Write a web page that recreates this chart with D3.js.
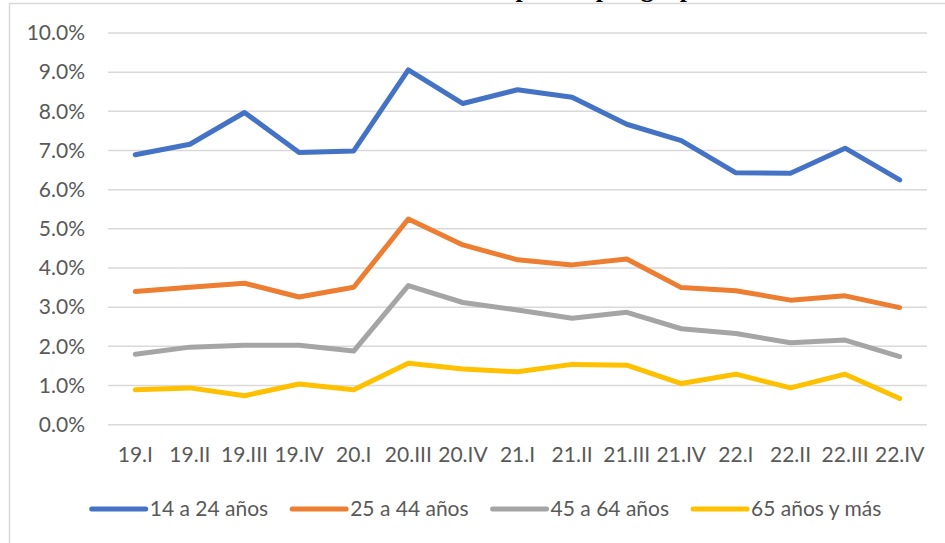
<!DOCTYPE html>
<html>
<head>
<meta charset="utf-8">
<script src="https://cdn.jsdelivr.net/npm/d3@7"></script>
<style>
  body { margin: 0; background: #fff; }
  svg { display: block; }
</style>
</head>
<body>
<div id="chart"></div>
<script>
// Data
const categories = ["19.I", "19.II", "19.III", "19.IV", "20.I", "20.III", "20.IV",
    "21.I", "21.II", "21.III", "21.IV", "22.I", "22.II", "22.III", "22.IV"];
const seriesNames = ["14 a 24 años", "25 a 44 años", "45 a 64 años", "65 años y más"];
const age14to24 = [6.89, 7.16, 7.97, 6.95, 6.99, 9.06, 8.20, 8.55, 8.36, 7.67, 7.25, 6.43, 6.42, 7.06, 6.25];
const age25to44 = [3.40, 3.51, 3.61, 3.26, 3.51, 5.25, 4.59, 4.21, 4.08, 4.23, 3.50, 3.42, 3.18, 3.29, 2.99];
const age45to64 = [1.80, 1.98, 2.03, 2.03, 1.88, 3.55, 3.12, 2.93, 2.72, 2.87, 2.45, 2.33, 2.09, 2.16, 1.74];
const age65plus = [0.89, 0.94, 0.74, 1.04, 0.89, 1.57, 1.42, 1.35, 1.54, 1.52, 1.05, 1.29, 0.94, 1.29, 0.67];
const yTicks = [0, 1, 2, 3, 4, 5, 6, 7, 8, 9, 10];
const colors = ["#4472C4", "#ED7D31", "#A5A5A5", "#FFC000"];

const series = seriesNames.map((name, i) => ({
    name: name,
    color: colors[i],
    values: [age14to24, age25to44, age45to64, age65plus][i]
}));

const width = 945;
const height = 543;
const margin = { top: 33, right: 18, bottom: 118.3, left: 108 };
const font = "Lato, 'Open Sans', sans-serif";
const fontSize = "21px";

const svg = d3.select("#chart")
    .append("svg")
    .attr("width", width)
    .attr("height", height);

// Chart title (cut off at the top of the picture)
svg.append("text")
    .attr("x", 575)
    .attr("y", -3)
    .attr("text-anchor", "middle")
    .attr("font-family", "'Liberation Serif', serif")
    .attr("font-weight", "bold")
    .attr("font-size", "26px")
    .attr("fill", "#000")
    .text("Tasa de desocupación por grupo de edad");

// Chart area border
svg.append("rect")
    .attr("x", 9.5)
    .attr("y", 3.5)
    .attr("width", width + 20)
    .attr("height", height + 20)
    .attr("fill", "none")
    .attr("stroke", "#d9d9d9")
    .attr("stroke-width", 1.5);

const xScale = d3.scaleBand()
    .domain(categories)
    .range([margin.left, width - margin.right]);

const yScale = d3.scaleLinear()
    .domain([0, 10])
    .range([height - margin.bottom, margin.top]);

// Gridlines
svg.append("g")
    .selectAll("line")
    .data(yTicks)
    .enter().append("line")
    .attr("x1", margin.left)
    .attr("x2", width - margin.right)
    .attr("y1", d => yScale(d))
    .attr("y2", d => yScale(d))
    .attr("stroke", "#d9d9d9")
    .attr("stroke-width", 1.5);

// Y-axis labels
const yAxis = svg.append("g")
    .attr("transform", `translate(${margin.left - 20},0)`)
    .call(d3.axisLeft(yScale).tickValues(yTicks).tickSize(0).tickPadding(3)
        .tickFormat(d => d.toFixed(1) + "%"));
yAxis.select(".domain").remove();
yAxis.selectAll("text")
    .attr("font-family", font)
    .attr("font-size", fontSize)
    .attr("fill", "#595959");

// X-axis labels
const xAxis = svg.append("g")
    .attr("transform", `translate(0,${height - margin.bottom})`)
    .call(d3.axisBottom(xScale).tickSize(0).tickPadding(22));
xAxis.select(".domain").remove();
xAxis.selectAll("text")
    .attr("font-family", font)
    .attr("font-size", fontSize)
    .attr("fill", "#595959");

// Lines
const line = d3.line()
    .x((d, i) => xScale(categories[i]) + xScale.bandwidth() / 2)
    .y(d => yScale(d));

svg.append("g")
    .selectAll("path")
    .data(series)
    .enter().append("path")
    .attr("d", d => line(d.values))
    .attr("fill", "none")
    .attr("stroke", d => d.color)
    .attr("stroke-width", 5)
    .attr("stroke-linejoin", "round")
    .attr("stroke-linecap", "round");

// Legend
const legendY = 509;
const sampleW = 54;
const gap = 24;
const legend = svg.append("g");
const items = legend.selectAll("g")
    .data(series)
    .enter().append("g");
items.append("line")
    .attr("x1", 0)
    .attr("x2", sampleW)
    .attr("y1", legendY)
    .attr("y2", legendY)
    .attr("stroke", d => d.color)
    .attr("stroke-width", 5)
    .attr("stroke-linecap", "round");
items.append("text")
    .attr("x", sampleW + 4)
    .attr("y", legendY)
    .attr("dy", "0.35em")
    .attr("font-family", font)
    .attr("font-size", fontSize)
    .attr("fill", "#595959")
    .text(d => d.name);

let widths = [];
items.each(function () { widths.push(this.getBBox().width); });
const total = d3.sum(widths) + gap * (widths.length - 1);
let cursor = 486.5 - total / 2;
items.attr("transform", (d, i) => {
    const x = cursor;
    cursor += widths[i] + gap;
    return `translate(${x},0)`;
});
</script>
</body>
</html>
